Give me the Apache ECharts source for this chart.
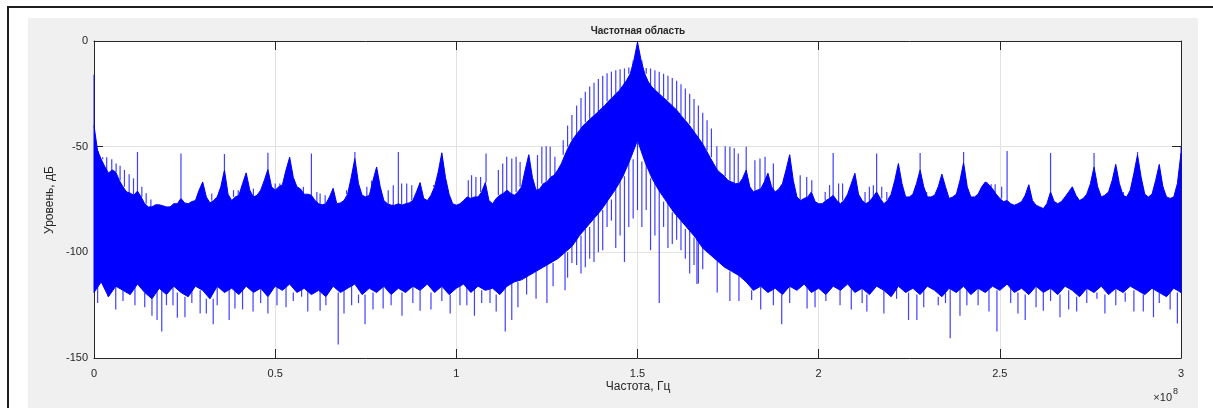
<!DOCTYPE html>
<html>
<head>
<meta charset="utf-8">
<script src="https://cdn.jsdelivr.net/npm/echarts@6/dist/echarts.min.js"></script>
<style>
  html, body { margin: 0; padding: 0; background: #fff; }
  #wrap { position: relative; width: 1213px; height: 408px; overflow: hidden; }
  .frame { position: absolute; left: 7px; top: 6px; width: 1240px; height: 430px;
           border-top: 2px solid #1e1e1e; border-left: 2px solid #1e1e1e; }
  .panel { position: absolute; left: 28px; top: 18px; width: 1170px; height: 400px; background: #f0f0f0; }
  #chart { position: absolute; left: 0; top: 0; width: 1213px; height: 408px; }
</style>
</head>
<body>
<div id="wrap">
  <div class="frame"></div>
  <div class="panel"></div>
  <div id="chart"></div>
</div>
<script>
// frequency axis in units of 1e8 Hz, level in dB
const xTicks = [0, 0.5, 1, 1.5, 2, 2.5, 3]
const yTicks = [-150, -100, -50, 0]

// upper edge of the dense noise band, one value per 0.01 (0 .. 3)
const HI_STEP = 0.01
const hiLevel = [
  -40, -52, -56, -59.5, -62.5, -61, -62, -66, -69, -71.4,
  -72, -73, -71, -73.8, -77, -78.5, -78.5, -77.5, -77.5, -78,
  -78.5, -78.5, -77, -77, -74.5, -76.6, -77, -76, -75.5, -70.6,
  -66.7, -73.8, -76.6, -75.5, -73.8, -69, -61, -72.5, -75.5, -73.8,
  -73, -67.5, -62.4, -70.6, -73.8, -73, -70.6, -66, -60.7, -69,
  -70.6, -69, -68, -61, -55, -64.5, -69, -70, -72.5, -72.5,
  -73, -75.5, -77, -77.5, -77, -73.8, -69.7, -77, -76.6, -75.5,
  -72.5, -64.5, -55.5, -67.5, -73, -73.8, -73, -66, -59.6, -69,
  -75.5, -77, -77.7, -77.7, -77, -77.7, -77, -76.6, -75.5, -71.4,
  -67, -74.5, -75.5, -73, -69, -62, -52.9, -64.5, -72.5, -77,
  -77.7, -77, -75.5, -73.8, -74.5, -73.8, -73.8, -71.4, -67, -75.5,
  -77, -74.5, -73, -72, -70.6, -72, -73, -71.4, -69, -61,
  -53.8, -64.5, -70.6, -70, -67.5, -66.7, -64.5, -63.5, -61, -58,
  -53.8, -50, -47, -44.5, -42.3, -40, -38.4, -36.8, -35.3, -33.7,
  -32, -30.5, -28.4, -26.9, -25, -23.4, -21, -18.6, -15.5, -9.2,
  -0.5, -9.2, -15.5, -19.4, -21.8, -23.4, -25, -26.6, -28, -29.7,
  -31.3, -33, -35.2, -37.3, -39.2, -41.5, -43.9, -46.3, -48.7, -51.8,
  -55, -58, -61, -62.6, -64, -66, -66.7, -67.5, -67.5, -65,
  -61, -69, -71.4, -70.6, -70, -66.7, -62.6, -69, -71.4, -70,
  -67.5, -61, -53.8, -66, -73.8, -75.5, -74.5, -73.8, -71.4, -76,
  -77, -77, -75.5, -74.5, -73, -75.5, -77, -75.5, -72.5, -67.5,
  -62.6, -72.5, -75.5, -77, -76, -73.8, -71.4, -74.5, -77, -75.5,
  -72.5, -66, -58, -67.5, -73.8, -73.8, -72.5, -67.5, -61, -69,
  -73.8, -73.8, -73, -69, -63, -69, -74.5, -73.8, -72.5, -66,
  -57.5, -69, -73.8, -73.8, -72.5, -69, -66.7, -68, -70, -72.5,
  -74.5, -76, -75.5, -77, -77.7, -77, -76, -73, -68, -75.5,
  -77.7, -78.5, -79.3, -77, -71.4, -76, -77, -76, -73.8, -71.4,
  -69, -73, -75.5, -74.5, -72.5, -67.5, -59.6, -69, -73.8, -73,
  -71.4, -66, -58.4, -67.5, -73, -73.8, -70.6, -62.6, -53.8, -64.5,
  -72.5, -73.8, -72.5, -66, -58.4, -69, -73.8, -74.5, -73.8, -67.5,
  -53
]

// lower edge of the dense band, one value per 0.02 (0 .. 3)
const LO_STEP = 0.02
const loLevel = [
  -119, -114, -121, -116, -118, -120, -115, -119, -122, -117,
  -120, -116, -119, -121, -116, -118, -122, -116, -119, -117,
  -120, -116, -119, -117, -121, -116, -118, -115, -119, -117,
  -120, -118, -121, -116, -119, -117, -115, -120, -117, -119,
  -116, -120, -117, -119, -116, -118, -115, -119, -116, -120,
  -117, -115, -119, -116, -118, -117, -120, -116, -114, -113,
  -111, -109, -107, -105, -103, -100, -97, -92, -88, -84,
  -80, -75, -70, -64, -56, -47, -57, -65, -71, -76,
  -81, -85, -89, -93, -98, -101, -104, -107, -109, -111,
  -114, -118, -116, -119, -117, -120, -116, -118, -115, -119,
  -117, -120, -116, -118, -115, -119, -117, -120, -116, -118,
  -121, -116, -119, -117, -120, -116, -118, -121, -117, -119,
  -116, -120, -117, -119, -116, -118, -115, -119, -117, -120,
  -116, -119, -117, -120, -116, -118, -121, -117, -119, -116,
  -120, -117, -119, -116, -118, -120, -117, -119, -121, -117,
  -119
]

// single lines rising above the band
const upFreq = [
  0, 0.012, 0.024, 0.035, 0.049, 0.061, 0.072, 0.084, 0.097, 0.109, 0.132, 0.144, 0.157,
  0.12, 0.24, 0.36, 0.48, 0.60, 0.72, 0.84, 0.96,
  0.325, 0.385, 0.398, 0.44, 0.5, 0.513, 0.578, 0.615, 0.624, 0.638, 0.697, 0.753, 0.766,
  0.812, 0.826, 0.849, 0.863, 0.877, 0.937, 1.033,
  1.042, 1.054, 1.067, 1.082, 1.116, 1.128, 1.139, 1.153, 1.165, 1.176, 1.224, 1.236,
  1.248, 1.259, 1.272, 1.295,
  1.307, 1.319, 1.332, 1.344, 1.356, 1.368, 1.38, 1.392, 1.404, 1.416, 1.428, 1.44,
  1.452, 1.464, 1.476, 1.488, 1.512, 1.524, 1.536, 1.548, 1.56, 1.572, 1.584, 1.596,
  1.608, 1.62, 1.632, 1.644, 1.656, 1.668, 1.68, 1.692, 1.704,
  1.719, 1.742, 1.755, 1.767, 1.778, 1.8, 1.824, 1.838, 1.852, 1.875, 1.949, 1.967, 1.981,
  2.018, 2.03, 2.055, 2.066, 2.128, 2.14, 2.151, 2.174, 2.188, 2.202, 2.298, 2.317,
  2.455, 2.464, 2.476, 2.487, 2.505, 2.74, 2.804, 2.841, 2.864, 2.896, 2.924, 2.951, 2.979,
  2.04, 2.16, 2.28, 2.4, 2.52, 2.64, 2.76, 2.88, 3.0
]
const upLevel = [
  -16, -54, -55, -55, -56, -58, -59, -61, -63, -65, -69, -72, -75,
  -52.5, -53.2, -53.5, -52.9, -53.2, -52.5, -52.5, -52.9,
  -72.2, -70.6, -70.6, -69.8, -67.4, -67.4, -69, -71.4, -72.2, -73, -70.6, -69, -72.2,
  -70.6, -68.2, -67.4, -67.4, -68.2, -68.2, -65.9,
  -63.5, -64.3, -64.3, -53.2, -61, -58, -54.8, -55.6, -54.8, -57.2, -54, -50,
  -49.8, -50, -54.8, -47,
  -40, -35, -30.5, -27, -24, -21.5, -19.8, -18, -16.5, -15.3, -14.5, -13.8,
  -13.4, -13, -12.5, -12.2, -12.3, -12.8, -13, -13.8, -14.5, -15.5, -16.5, -17.5,
  -18.8, -20.5, -22.5, -25, -27.5, -30.5, -34, -37.5, -41.4,
  -49.8, -49.8, -50, -50.8, -53.2, -50, -56.4, -55.6, -54.8, -58, -63.5, -64.3, -65.9,
  -71.4, -68.2, -67.4, -67.4, -71.4, -69, -68.2, -69, -71.4, -71.4, -71.4, -73,
  -66.7, -67.4, -67.8, -67.8, -69, -72.2, -71.4, -71.4, -68.2, -70.6, -72.2, -69.8, -73.8,
  -53, -53.2, -53, -52.5, -52.1, -53, -53, -52.5, -50
]

// single lines dropping below the band
const downFreq = [
  0.039, 0.113, 0.174, 0.187, 0.218, 0.251, 0.293, 0.329, 0.373, 0.389, 0.439, 0.505,
  0.573, 0.624, 0.674, 0.711, 0.748, 0.798, 0.9, 0.983, 1.029, 1.093, 1.135, 1.153,
  1.194, 1.267, 1.3, 1.664, 1.755, 1.815, 1.875, 1.898, 1.968, 2.059, 2.133, 2.215,
  2.248, 2.271, 2.33, 2.363, 2.409, 2.492, 2.57, 2.62, 2.666, 2.712, 2.768, 2.846,
  2.896, 2.924, 2.99,
  0.01, 0.06, 0.08, 0.14, 0.16, 0.2, 0.23, 0.27, 0.31, 0.34, 0.41, 0.46, 0.48, 0.53,
  0.55, 0.59, 0.64, 0.69, 0.73, 0.77, 0.82, 0.85, 0.88, 0.93, 0.96, 1.01, 1.05, 1.07,
  1.11, 1.17, 1.22, 1.25, 1.72, 1.78, 1.84, 1.92, 1.99, 2.02, 2.09, 2.12, 2.18, 2.29,
  2.35, 2.39, 2.44, 2.47, 2.53, 2.55, 2.6, 2.64, 2.69, 2.74, 2.79, 2.82, 2.87, 2.94, 2.97,
  1.307, 1.319, 1.332, 1.344, 1.356, 1.368, 1.38, 1.392, 1.404, 1.416, 1.428, 1.44,
  1.452, 1.464, 1.476, 1.488, 1.5, 1.512, 1.524, 1.536, 1.548, 1.56, 1.572, 1.584,
  1.596, 1.608, 1.62, 1.632, 1.644, 1.656, 1.668, 1.68, 1.692
]
const downLevel = [
  -119.4, -125, -132, -137.5, -125, -130.7, -129, -134, -132, -126.6, -128, -125,
  -121, -127.6, -143.6, -125, -134, -126.6, -127.6, -129, -125, -124, -137.5, -132,
  -120, -116, -118, -115, -123, -122.5, -125, -134, -126.6, -125, -128, -122,
  -132, -132, -125, -140.7, -125, -137.5, -132, -127.6, -130.7, -128, -122, -123.4,
  -128, -130.7, -133.7,
  -124, -127, -123, -126, -130, -125, -131, -124, -129, -125, -127, -124, -129, -126,
  -123, -128, -125, -129, -124, -127, -125, -130, -124, -127, -123, -125, -130, -124,
  -128, -126, -122, -124, -119, -123, -127, -124, -126, -123, -127, -124, -129, -126,
  -124, -130, -125, -128, -124, -129, -126, -123, -127, -124, -129, -125, -128, -124, -127,
  -112, -105, -106, -110, -107, -103, -104.6, -100, -99, -88, -85, -98,
  -92, -104.6, -88, -84, -80, -88, -80, -99, -92, -124, -88, -98,
  -96, -94, -99, -103, -110, -106, -114.7, -108, -101
]

const FONT = '"Liberation Sans", Arial, Helvetica, sans-serif'
const INK = '#262626'
const BLUE = '#0000ff'
const SPIKE = 'rgba(0, 0, 255, 0.75)'

const upData = upFreq.map((f, i) => [f, hiLevel[Math.round(f / HI_STEP)], upLevel[i]])
const downData = downFreq.map((f, i) => [f, loLevel[Math.round(f / LO_STEP)], downLevel[i]])

function renderBand (params, api) {
  const pts = []
  hiLevel.forEach((v, i) => pts.push(api.coord([i * HI_STEP, v])))
  for (let i = loLevel.length - 1; i >= 0; i--) {
    pts.push(api.coord([i * LO_STEP, loLevel[i]]))
  }
  return {
    type: 'polygon',
    shape: { points: pts },
    style: { fill: BLUE, stroke: BLUE, lineWidth: 1 }
  }
}

function renderSpike (params, api) {
  const a = api.coord([api.value(0), api.value(1)])
  const b = api.coord([api.value(0), api.value(2)])
  return {
    type: 'line',
    shape: { x1: a[0], y1: a[1], x2: b[0], y2: b[1] },
    style: { stroke: SPIKE, lineWidth: 1.2 }
  }
}

const axisCommon = {
  type: 'value',
  axisLine: { show: true, onZero: false, lineStyle: { color: INK, width: 1 } },
  axisTick: { show: true, inside: true, length: 9, lineStyle: { color: INK } }
}

const chart = echarts.init(document.getElementById('chart'))
chart.setOption({
  animation: false,
  grid: {
    left: 94, top: 41, right: 32, bottom: 50,
    show: true, backgroundColor: '#ffffff', borderWidth: 0
  },
  xAxis: [{
    ...axisCommon,
    position: 'bottom',
    min: xTicks[0], max: xTicks[xTicks.length - 1], interval: 0.5,
    axisLabel: { color: INK, fontSize: 11, fontFamily: FONT, margin: 10, showMinLabel: true, showMaxLabel: true },
    splitLine: { show: true, lineStyle: { color: '#e2e2e2', width: 1 } }
  }, {
    ...axisCommon,
    position: 'top',
    min: xTicks[0], max: xTicks[xTicks.length - 1], interval: 0.5,
    axisLabel: { show: false },
    splitLine: { show: false }
  }],
  yAxis: [{
    ...axisCommon,
    position: 'left',
    min: yTicks[0], max: yTicks[yTicks.length - 1], interval: 50,
    axisLabel: { color: INK, fontSize: 11, fontFamily: FONT, margin: 6, showMinLabel: true, showMaxLabel: true },
    splitLine: { show: true, lineStyle: { color: '#e2e2e2', width: 1 } }
  }, {
    ...axisCommon,
    position: 'right',
    min: yTicks[0], max: yTicks[yTicks.length - 1], interval: 50,
    axisLabel: { show: false },
    splitLine: { show: false }
  }],
  series: [{
    type: 'custom',
    name: 'band',
    renderItem: renderBand,
    data: [[0, 0]],
    encode: { x: 0, y: 1 },
    z: 2
  }, {
    type: 'custom',
    name: 'up',
    renderItem: renderSpike,
    data: upData,
    encode: { x: 0, y: [1, 2] },
    z: 3
  }, {
    type: 'custom',
    name: 'down',
    renderItem: renderSpike,
    data: downData,
    encode: { x: 0, y: [1, 2] },
    z: 3
  }],
  graphic: [{
    type: 'text',
    x: 638, y: 31,
    style: { text: 'Частотная область', font: 'bold 10px ' + FONT, fill: INK, align: 'center', verticalAlign: 'middle' }
  }, {
    type: 'text',
    x: 50, y: 200, rotation: Math.PI / 2,
    style: { text: 'Уровень, дБ', font: '12px ' + FONT, fill: INK, align: 'center', verticalAlign: 'middle' }
  }, {
    type: 'text',
    x: 638, y: 387,
    style: { text: 'Частота, Гц', font: '12px ' + FONT, fill: INK, align: 'center', verticalAlign: 'middle' }
  }, {
    type: 'text',
    x: 1172, y: 398,
    style: { text: '×10', font: '11px ' + FONT, fill: INK, align: 'right', verticalAlign: 'middle' }
  }, {
    type: 'text',
    x: 1173, y: 392,
    style: { text: '8', font: '9px ' + FONT, fill: INK, align: 'left', verticalAlign: 'middle' }
  }]
})
</script>
</body>
</html>
